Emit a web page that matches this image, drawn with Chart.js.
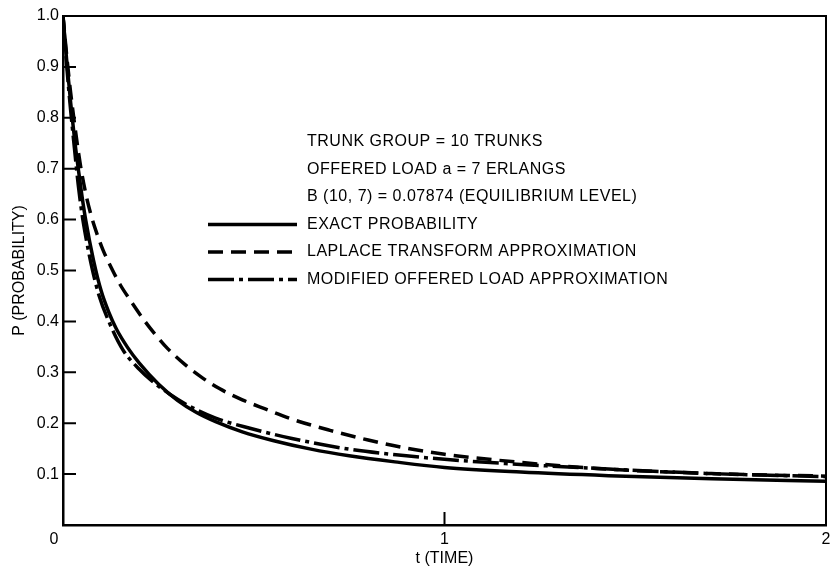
<!DOCTYPE html>
<html>
<head>
<meta charset="utf-8">
<script src="https://cdn.jsdelivr.net/npm/chart.js@4"></script>
<style>
  body { margin: 0; background: #fff; }
</style>
</head>
<body>
<canvas id="chart" width="830" height="569"></canvas>
<script>
// exact probability (solid)
const tExact = [0, 0.01, 0.02, 0.03, 0.04, 0.05, 0.06, 0.08, 0.10, 0.12, 0.14, 0.17, 0.2, 0.25, 0.3, 0.35, 0.4, 0.47, 0.55, 0.65, 0.75, 0.87, 1.0, 1.2, 1.43, 1.7, 2.0];
const pExact = [1.0, 0.91, 0.83, 0.76, 0.70, 0.645, 0.597, 0.52, 0.46, 0.418, 0.385, 0.348, 0.318, 0.277, 0.245, 0.221, 0.203, 0.183, 0.166, 0.149, 0.136, 0.124, 0.113, 0.104, 0.097, 0.091, 0.086];

// laplace transform approximation (dashed)
const tLaplace = [0, 0.01, 0.02, 0.03, 0.045, 0.06, 0.075, 0.09, 0.105, 0.125, 0.15, 0.176, 0.21, 0.24, 0.275, 0.32, 0.36, 0.41, 0.47, 0.53, 0.6, 0.7, 0.8, 0.9, 1.0, 1.2, 1.4, 1.7, 2.0];
const pLaplace = [1.0, 0.92, 0.85, 0.79, 0.71, 0.65, 0.605, 0.57, 0.54, 0.508, 0.472, 0.442, 0.405, 0.376, 0.346, 0.315, 0.292, 0.268, 0.246, 0.228, 0.208, 0.186, 0.167, 0.151, 0.139, 0.123, 0.111, 0.101, 0.096];

// modified offered load approximation (dash-dot)
const tModified = [0, 0.01, 0.02, 0.03, 0.04, 0.05, 0.06, 0.076, 0.094, 0.12, 0.157, 0.2, 0.233, 0.28, 0.33, 0.4, 0.49, 0.6, 0.75, 0.9, 1.0, 1.2, 1.43, 1.7, 2.0];
const pModified = [1.0, 0.9, 0.815, 0.74, 0.668, 0.61, 0.565, 0.505, 0.452, 0.40, 0.344, 0.306, 0.283, 0.257, 0.234, 0.21, 0.19, 0.17, 0.149, 0.136, 0.129, 0.119, 0.11, 0.101, 0.095];

const seriesLabels = ['EXACT PROBABILITY', 'LAPLACE TRANSFORM APPROXIMATION', 'MODIFIED OFFERED LOAD APPROXIMATION'];
const notes = ['TRUNK GROUP = 10 TRUNKS', 'OFFERED LOAD a = 7 ERLANGS', 'B (10, 7) = 0.07874 (EQUILIBRIUM LEVEL)'];

const yTicks = [0.1, 0.2, 0.3, 0.4, 0.5, 0.6, 0.7, 0.8, 0.9, 1.0];
const yTickLabels = ['0.1', '0.2', '0.3', '0.4', '0.5', '0.6', '0.7', '0.8', '0.9', '1.0'];
const xTicks = [1, 2];
const xTickLabels = ['1', '2'];
const innerYTicks = [0.1, 0.2, 0.3, 0.4, 0.5, 0.6, 0.7, 0.8, 0.9];
const innerXTicks = [1];

const FONT = { family: '"Liberation Sans", Arial, Helvetica, sans-serif', size: 16 };
const INK = '#000';

function pts(ts, ps) {
  return ts.map((t, i) => ({ x: t, y: ps[i] }));
}

const frameAndNotes = {
  id: 'frameAndNotes',
  afterDraw(chart) {
    const { ctx, chartArea: a, scales: { x, y } } = chart;
    ctx.save();
    ctx.strokeStyle = INK;
    ctx.lineWidth = 2;
    ctx.beginPath();
    ctx.moveTo(a.left, a.top);
    ctx.lineTo(a.right, a.top);
    ctx.lineTo(a.right, a.bottom);
    ctx.stroke();

    // ticks pointing into the plot
    ctx.beginPath();
    innerYTicks.forEach(v => {
      const py = y.getPixelForValue(v);
      ctx.moveTo(a.left, py);
      ctx.lineTo(a.left + 13, py);
    });
    innerXTicks.forEach(v => {
      const px = x.getPixelForValue(v);
      ctx.moveTo(px, a.bottom);
      ctx.lineTo(px, a.bottom - 13);
    });
    ctx.stroke();

    ctx.fillStyle = INK;
    ctx.font = FONT.size + 'px ' + FONT.family;
    ctx.textBaseline = 'middle';
    ctx.textAlign = 'center';
    ctx.fillText('0', a.left - 9, a.bottom + 15);

    ctx.textAlign = 'left';
    ctx.letterSpacing = '0.5px';
    const tx = 307;
    let ty = 142;
    notes.forEach(n => {
      ctx.fillText(n, tx, ty);
      ty += 27.5;
    });
    chart.data.datasets.forEach(ds => {
      ctx.fillText(ds.label, tx, ty);
      ctx.save();
      ctx.lineWidth = ds.borderWidth;
      ctx.setLineDash(ds.borderDash || []);
      ctx.beginPath();
      ctx.moveTo(208, ty);
      ctx.lineTo(297, ty);
      ctx.stroke();
      ctx.restore();
      ty += 27.5;
    });
    ctx.restore();
  }
};

new Chart(document.getElementById('chart'), {
  type: 'line',
  data: {
    datasets: [{
      label: seriesLabels[0],
      data: pts(tExact, pExact),
      borderColor: INK,
      borderWidth: 3.5,
      borderDash: []
    }, {
      label: seriesLabels[1],
      data: pts(tLaplace, pLaplace),
      borderColor: INK,
      borderWidth: 3.5,
      borderDash: [15, 8]
    }, {
      label: seriesLabels[2],
      data: pts(tModified, pModified),
      borderColor: INK,
      borderWidth: 3.5,
      borderDash: [26, 5, 4, 5]
    }]
  },
  options: {
    responsive: false,
    animation: false,
    devicePixelRatio: 1,
    layout: { padding: { top: 16, right: 4, left: 0, bottom: 0 } },
    elements: {
      point: { radius: 0 },
      line: { cubicInterpolationMode: 'monotone', fill: false }
    },
    plugins: {
      legend: { display: false },
      tooltip: { enabled: false }
    },
    scales: {
      x: {
        type: 'linear',
        min: 0,
        max: 2,
        afterBuildTicks: s => { s.ticks = xTicks.map(v => ({ value: v })); },
        afterFit: s => { s.height = 44; s.paddingRight = 0; s.paddingLeft = 0; },
        ticks: {
          font: FONT,
          color: INK,
          padding: 5,
          maxRotation: 0,
          autoSkip: false,
          callback: v => xTickLabels[xTicks.indexOf(v)]
        },
        grid: { display: false, drawTicks: false },
        border: { display: true, color: INK, width: 2.5 },
        title: { display: true, text: 't (TIME)', font: FONT, color: INK, padding: { top: 0, bottom: 1 } }
      },
      y: {
        min: 0,
        max: 1,
        afterBuildTicks: s => { s.ticks = yTicks.map(v => ({ value: v })); },
        afterFit: s => { s.width = 63; },
        ticks: {
          font: FONT,
          color: INK,
          padding: 4,
          autoSkip: false,
          callback: v => yTickLabels[yTicks.indexOf(v)]
        },
        grid: { display: false, drawTicks: false },
        border: { display: true, color: INK, width: 2.5 },
        title: { display: true, text: 'P (PROBABILITY)', font: FONT, color: INK, padding: { top: 10, bottom: 0 } }
      }
    }
  },
  plugins: [frameAndNotes]
});
</script>
</body>
</html>
